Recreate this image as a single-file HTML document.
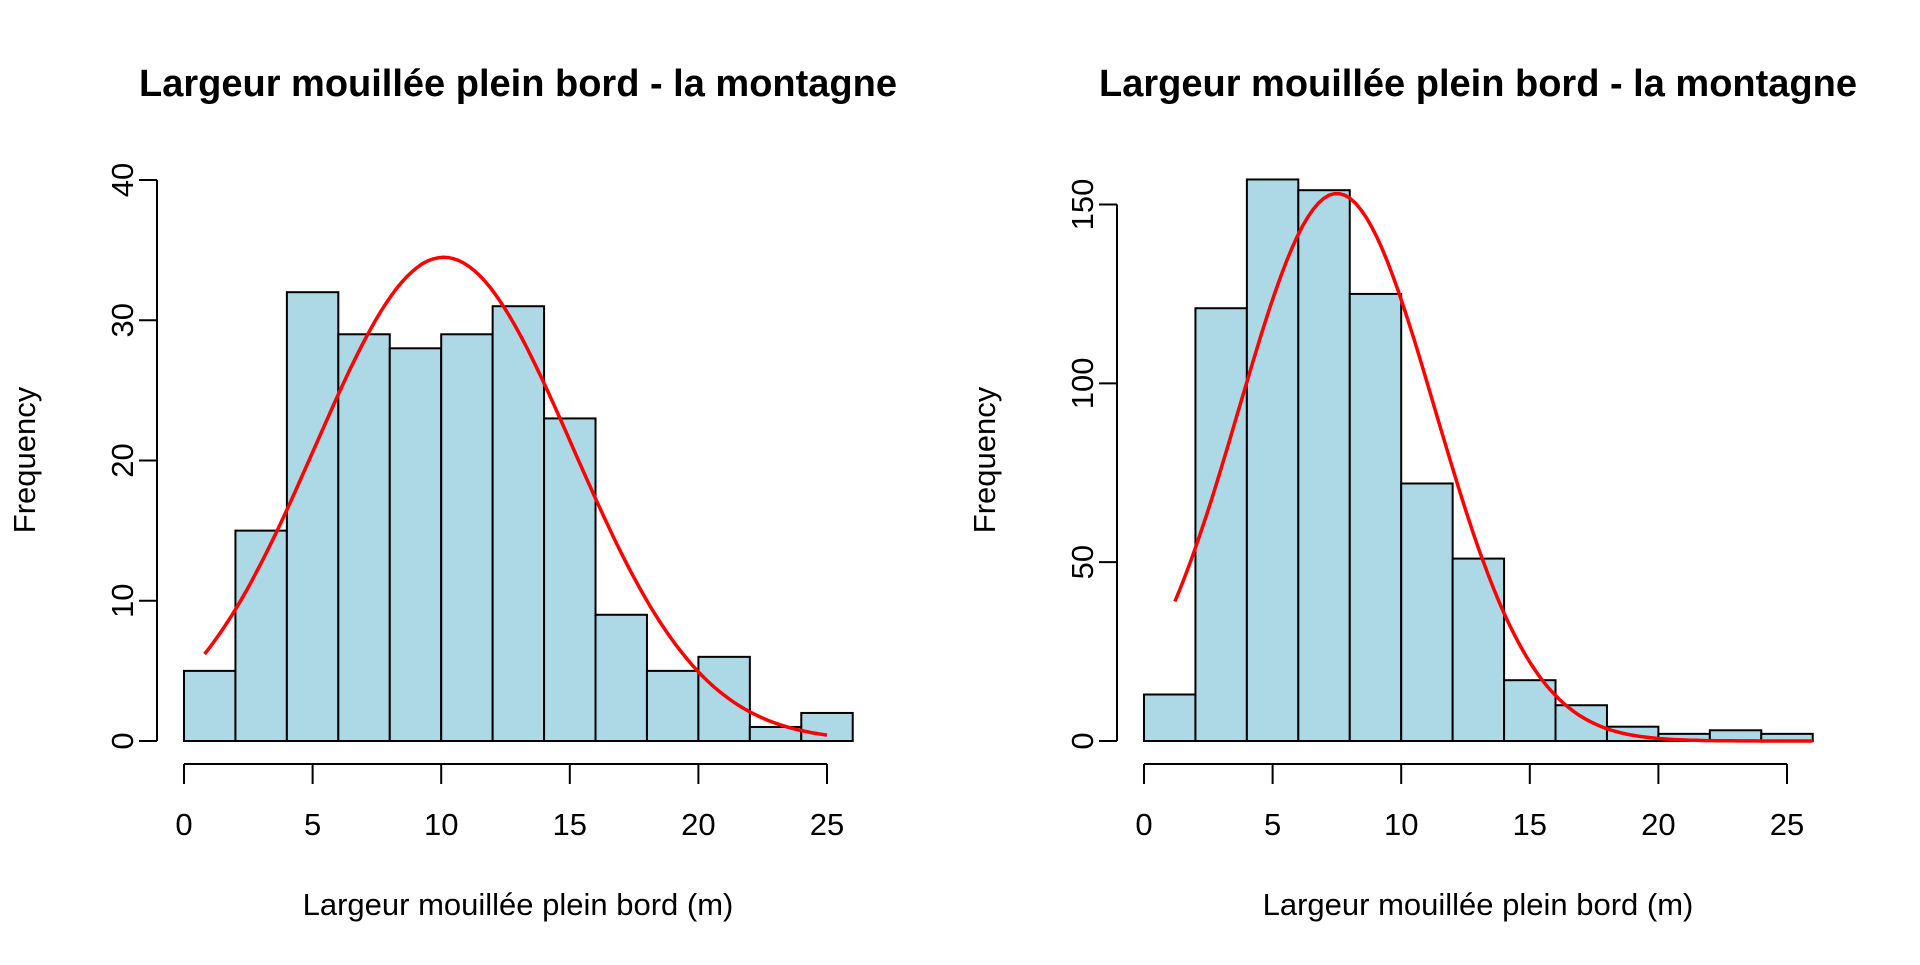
<!DOCTYPE html>
<html><head><meta charset="utf-8"><style>
body{margin:0;background:#fff}
svg text{font-family:"Liberation Sans",Arial,sans-serif;fill:#000}
</style></head><body>
<svg id="c" width="1920" height="960" viewBox="0 0 1920 960"></svg>
<script>
const binEdgesLeft=[0,2,4,6,8,10,12,14,16,18,20,22,24,26];
const countsLeft=[5,15,32,29,28,29,31,23,9,5,6,1,2];
const binEdgesRight=[0,2,4,6,8,10,12,14,16,18,20,22,24,26];
const countsRight=[13,121,157,154,125,72,51,17,10,4,2,3,2];
const xTicks=[0,5,10,15,20,25];
const yTicksLeft=[0,10,20,30,40];
const yTicksRight=[0,50,100,150];
const curveLeft=[10.1,5.02,217,0.8,25];   // mean, sd, n, from, to
const curveRight=[7.5,3.81,731,1.2,26];
const NS="http://www.w3.org/2000/svg";
const svg=document.getElementById('c');
function mk(t,a,p){const e=document.createElementNS(NS,t);for(const k in a)e.setAttribute(k,a[k]);(p||svg).appendChild(e);return e;}
function panel(ox,yMax,y0px,yTopPx,edges,counts,yTicks,curve,name){
  const g=mk('g',{});
  
  
  const x0=ox+184,x25=ox+827;
  const X=v=>x0+(x25-x0)*v/25;
  const Y=v=>y0px-(y0px-yTopPx)*v/yMax;
  const t=mk('text',{x:ox+518,y:96,'text-anchor':'middle','font-size':38,'font-weight':'bold'},g);
  t.textContent='Largeur mouillée plein bord - la montagne';
  
  counts.forEach((c,i)=>{
    const r=mk('rect',{x:X(edges[i]),y:Y(c),width:X(edges[i+1])-X(edges[i]),height:Y(0)-Y(c),fill:'#add8e6',stroke:'#000','stroke-width':2},g);
    
    
  });
  const ya=mk('g',{},g);
  const yl=ox+157;
  mk('line',{x1:yl,x2:yl,y1:Y(yTicks[0]),y2:Y(yTicks[yTicks.length-1]),stroke:'#000','stroke-width':2},ya);
  yTicks.forEach(v=>{
    mk('line',{x1:yl-18,x2:yl,y1:Y(v),y2:Y(v),stroke:'#000','stroke-width':2},ya);
    const tt=mk('text',{x:0,y:0,'text-anchor':'middle','font-size':31,transform:`translate(${yl-24},${Y(v)}) rotate(-90)`},ya);
    tt.textContent=v;
  });
  const yt=mk('text',{'text-anchor':'middle','font-size':31,transform:`translate(${ox+35},${460}) rotate(-90)`},g);
  yt.textContent='Frequency';
  const xa=mk('g',{},g);
  const xl=764;
  mk('line',{x1:X(xTicks[0]),x2:X(xTicks[xTicks.length-1]),y1:xl,y2:xl,stroke:'#000','stroke-width':2},xa);
  xTicks.forEach(v=>{
    mk('line',{x1:X(v),x2:X(v),y1:xl,y2:xl+20,stroke:'#000','stroke-width':2},xa);
    const tt=mk('text',{x:X(v),y:835,'text-anchor':'middle','font-size':31},xa);tt.textContent=v;
  });
  const xt=mk('text',{x:ox+518,y:915,'text-anchor':'middle','font-size':31},g);
  xt.textContent='Largeur mouillée plein bord (m)';
  const [m,s,n,a,b]=curve;let d='';
  for(let k=0;k<=120;k++){const x=a+(b-a)*k/120;const y=n*2/(s*Math.sqrt(2*Math.PI))*Math.exp(-0.5*((x-m)/s)**2);d+=(k?'L':'M')+X(x).toFixed(1)+','+Y(y).toFixed(1);}
  const p=mk('path',{d:d,fill:'none',stroke:'#ff0000','stroke-width':3.5},g);
  
}
panel(0,40,741,180,binEdgesLeft,countsLeft,yTicksLeft,curveLeft,'left-histogram');
panel(960,150,741,204.5,binEdgesRight,countsRight,yTicksRight,curveRight,'right-histogram');
</script>
</body></html>
